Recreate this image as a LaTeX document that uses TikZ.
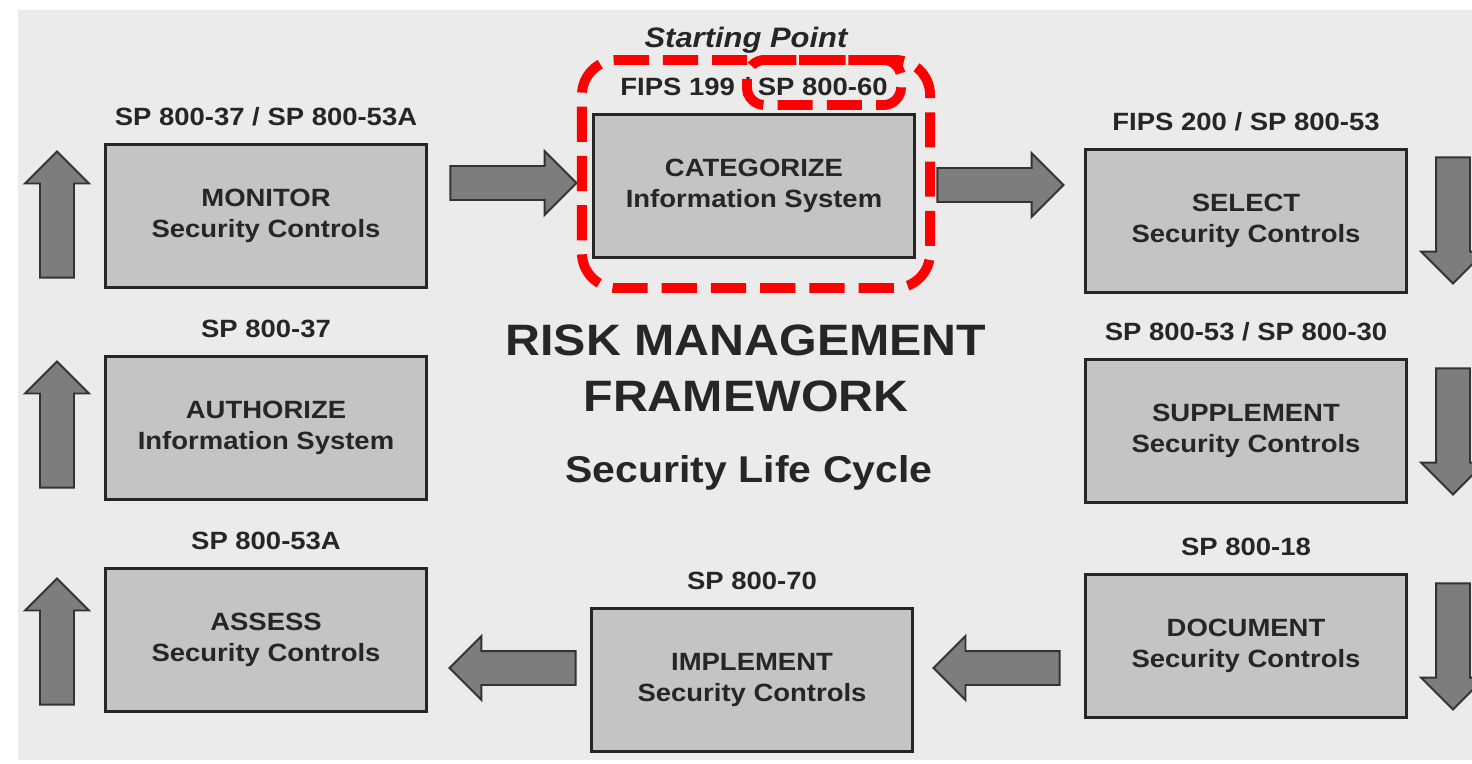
\documentclass[tikz,border=0pt]{standalone}
\usepackage{fontspec}
\setmainfont[FakeStretch=1.1]{Liberation Sans}
\usetikzlibrary{calc}
\usetikzlibrary{positioning}
\usetikzlibrary{shapes.arrows}
\definecolor{backdrop}{RGB}{235,235,235}
\definecolor{stagegray}{RGB}{196,196,196}
\definecolor{flowgray}{RGB}{125,125,125}
\definecolor{ink}{RGB}{38,38,38}
\definecolor{primary}{RGB}{255,0,0}

\begin{document}
\begin{tikzpicture}[
    x=0.01cm, y=-0.01cm,
    every label/.style={
        font=\fontsize{7.1}{8.5}\selectfont\bfseries,
        text=ink,
        text depth=0pt,
        yshift=1.5pt,
    },
    stage/.style={
        draw=black!85,
        line width=0.9pt,
        fill=stagegray,
        minimum width=3.2cm,
        minimum height=1.43cm,
        align=center,
        text=ink,
        font=\fontsize{7.1}{8.8}\selectfont\bfseries,
    },
    flow/.style={
        single arrow,
        draw=black!80,
        line width=0.55pt,
        fill=flowgray,
        inner xsep=0pt,
        inner ysep=0.16cm,
        minimum height=1.26cm,
        single arrow head extend=0.15cm,
    },
    redframe/.style={
        draw=primary,
        line width=2.8pt,
        dash pattern=on 10pt off 4pt,
        inner sep=0pt,
    },
]
    \clip (0,0) rectangle (1472,763);
    \fill[white] (0,0) rectangle (1472,763);
    \fill[backdrop] (18,10) rectangle (1472,760);

    % left column
    \node[stage, label=above:{SP 800-37 / SP 800-53A}] (monitor) at (266,216) {MONITOR\\Security Controls};
    \node[stage, label=above:{SP 800-37}] (authorize) at (266,428) {AUTHORIZE\\Information System};
    \node[stage, label=above:{SP 800-53A}] (assess) at (266,640) {ASSESS\\Security Controls};

    % middle column
    \node[stage, label=above:{FIPS 199 / SP 800-60}] (categorize) at (754,186) {CATEGORIZE\\Information System};
    \node[stage, label=above:{SP 800-70}] (implement) at (752,680) {IMPLEMENT\\Security Controls};

    % right column
    \node[stage, label=above:{FIPS 200 / SP 800-53}] (select) at (1246,221) {SELECT\\Security Controls};
    \node[stage, label=above:{SP 800-53 / SP 800-30}] (supplement) at (1246,431) {SUPPLEMENT\\Security Controls};
    \node[stage, label=above:{SP 800-18}] (document) at (1246,646) {DOCUMENT\\Security Controls};

    \node (start) [anchor=base, text=ink, font=\fontsize{8}{9}\selectfont\bfseries\itshape] at ($(categorize.north)+(-8,-65)$) {Starting Point};

    \node (rmf) [align=center, text=ink, font=\fontsize{12.5}{16}\selectfont\bfseries] at (746,368) {RISK MANAGEMENT\\FRAMEWORK};
    \node (cycle) [anchor=base, text=ink, font=\fontsize{10.6}{12}\selectfont\bfseries] at (749,482) {Security Life Cycle};

    % block arrows
    \node[flow] (m2c) at (505,183) {};
    \node[flow] (c2s) at (992,185) {};
    \node[flow, rotate=-90] (s2p) at (1453,212) {};
    \node[flow, rotate=-90] (p2d) at (1453,423) {};
    \node[flow, rotate=-90] (d2i) at (1453,638) {};
    \node[flow, rotate=180] (dtoi) at (1005,668) {};
    \node[flow, rotate=180] (itoa) at (521,668) {};
    \node[flow, rotate=90] (atoz) at (57,650) {};
    \node[flow, rotate=90] (ztom) at (57,433) {};
    \node[flow, rotate=90] (mtoc) at (57,223) {};

    % highlight
    \node (focus) [redframe, rounded corners=10pt, minimum width=3.48cm, minimum height=2.28cm] at (756,174) {};
    \node (focusref) [redframe, rounded corners=5pt, minimum width=1.54cm, minimum height=0.45cm] at (824,82.5) {};
\end{tikzpicture}
\end{document}
